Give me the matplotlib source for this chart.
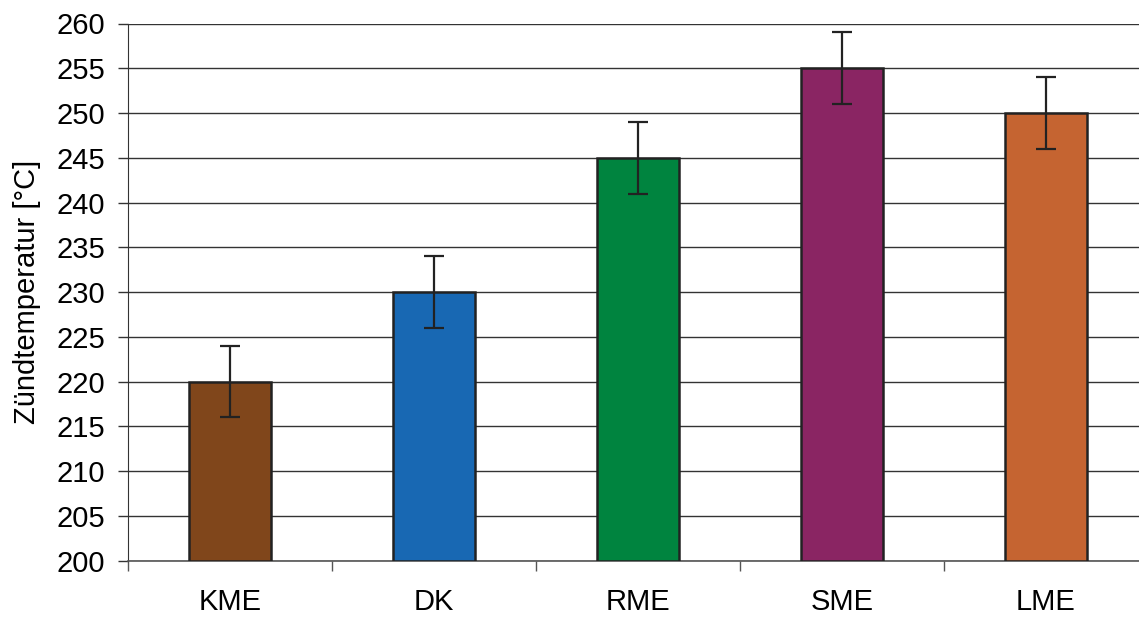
import numpy as np
import matplotlib.pyplot as plt

plt.rcParams['font.family'] = ['Liberation Sans', 'DejaVu Sans']

# --- Daten ---
kategorien = ['KME', 'DK', 'RME', 'SME', 'LME']
zuendtemp = [220, 230, 245, 255, 250]
fehler = [4, 4, 4, 4, 4]
farben = ['#80461B', '#1868B3', '#00843F', '#8A2563', '#C56431']
y_ticks = list(range(200, 261, 5))

fig = plt.figure(figsize=(11.39, 6.17), dpi=100)
# Achse geht rechts etwas über das Bild hinaus (wie im Original)
ax = fig.add_axes([128/1139, 56.5/617, 1020/1139, 537/617])

x = np.arange(len(kategorien))
ax.bar(x, np.array(zuendtemp) - 200, bottom=200, width=0.4, color=farben,
       edgecolor='#222222', linewidth=1.8, zorder=3)
ax.errorbar(x, zuendtemp, yerr=fehler, fmt='none', ecolor='#222222',
            elinewidth=1.6, capsize=7, capthick=1.6, zorder=4)

ax.set_xlim(-0.5, len(kategorien) - 0.5)
ax.set_ylim(200, 260)
ax.set_yticks(y_ticks)
ax.tick_params(axis='y', labelsize=21, length=7.2, width=1, color='#333333', pad=9)

ax.set_xticks(x)
ax.set_xticklabels(kategorien)
ax.set_xticks(np.arange(len(kategorien) + 1) - 0.5, minor=True)
ax.tick_params(axis='x', which='major', length=0, labelsize=21, pad=20)
ax.tick_params(axis='x', which='minor', length=7.2, width=1, color='#555555')

ax.yaxis.grid(True, color='#333333', linewidth=1.0, zorder=0)
ax.set_axisbelow(True)
for s in ['top', 'right']:
    ax.spines[s].set_visible(False)
ax.spines['left'].set_color('#333333')
ax.spines['bottom'].set_color('#555555')
ax.spines['bottom'].set_linewidth(1.2)

ax.set_ylabel('Zündtemperatur [°C]', fontsize=21)
ax.yaxis.set_label_coords(-0.085, 0.5)

plt.savefig('out.png', dpi=100)
